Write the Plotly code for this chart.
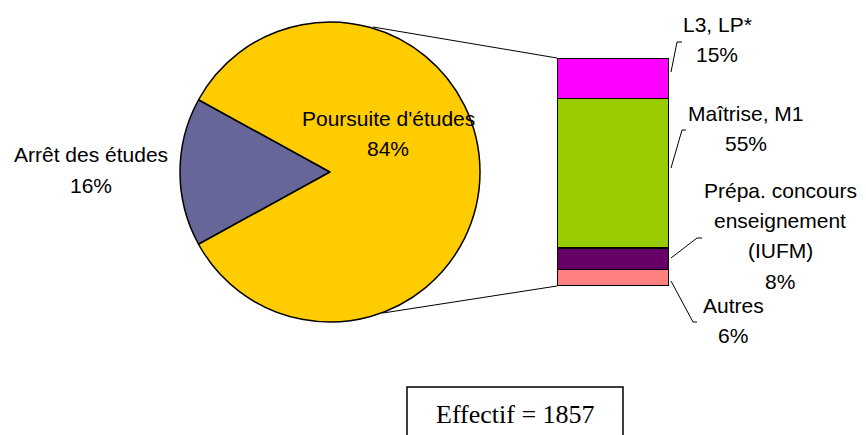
import plotly.graph_objects as go

# Pie: first level
pie_labels = ["Arrêt des études", "Poursuite d'études"]
pie_values = [16, 84]
pie_colors = ["#666699", "#FFCC00"]

# Bar: breakdown of "Poursuite d'études" (bottom to top)
bar_labels = ["Autres", "Prépa. concours<br>enseignement<br>(IUFM)", "Maîtrise, M1", "L3, LP*"]
bar_values = [6, 8, 55, 15]
bar_colors = ["#FF8080", "#660066", "#99CC00", "#FF00FF"]

effectif = 1857

# the page body has an 8px margin, so the figure is drawn 8px in
OFF = 8
W, H = 866 - OFF, 435 - OFF


def px(x):
    return (x - OFF) / W


def py(y):
    return 1 - (y - OFF) / H


FONT = "Liberation Sans, Arial, sans-serif"

# pie geometry (window pixels)
cx, cy, r = 330, 172, 150
# bar geometry (window pixels)
bx0, bx1, by0, by1 = 557, 669, 58, 286

fig = go.Figure()

# first slice centred on 9 o'clock
start = 270 - pie_values[0] / sum(pie_values) * 360 / 2
fig.add_trace(go.Pie(labels=pie_labels, values=pie_values, sort=False,
                     direction="clockwise", rotation=start,
                     marker=dict(colors=pie_colors, line=dict(color="black", width=1.5)),
                     textinfo="none", hoverinfo="label+percent", showlegend=False,
                     domain=dict(x=[px(cx - r), px(cx + r)], y=[py(cy + r), py(cy - r)])))

for lab, v, c in zip(bar_labels, bar_values, bar_colors):
    fig.add_trace(go.Bar(x=[0], y=[v], width=1, name=lab.replace("<br>", " "),
                         marker=dict(color=c, line=dict(color="black", width=1.5)),
                         showlegend=False, hoverinfo="name+y"))

total = sum(bar_values)
fig.update_layout(
    width=W, height=H, barmode="stack",
    margin=dict(l=0, r=0, t=0, b=0),
    paper_bgcolor="white", plot_bgcolor="rgba(0,0,0,0)",
    xaxis=dict(domain=[px(bx0), px(bx1)], range=[-0.5, 0.5], visible=False, fixedrange=True),
    yaxis=dict(domain=[py(by1), py(by0)], range=[0, total], visible=False, fixedrange=True),
    font=dict(family=FONT, size=21, color="black"),
)

shapes = []
# connector lines pie -> bar
shapes.append(dict(type="line", xref="paper", yref="paper", x0=px(373), y0=py(27),
                   x1=px(bx0), y1=py(by0), line=dict(color="black", width=1)))
shapes.append(dict(type="line", xref="paper", yref="paper", x0=px(383), y0=py(313),
                   x1=px(bx0), y1=py(by1), line=dict(color="black", width=1)))

# leader lines from bar segments to labels (knee point, tick end)
leaders = [(693, 322, 697), (697, 238, 702), (682, 130, 686), (677, 42, 682)]
ends = [281, 258, 168, 72]
for (kx, ky, tx), ey in zip(leaders, ends):
    shapes.append(dict(type="path", xref="paper", yref="paper",
                       path=f"M {px(bx1 + 2)},{py(ey)} L {px(kx)},{py(ky)} L {px(tx)},{py(ky)}",
                       line=dict(color="black", width=1)))

# box around effectif
shapes.append(dict(type="rect", xref="paper", yref="paper", x0=px(407), y0=py(387),
                   x1=px(623), y1=py(450), line=dict(color="black", width=1.5)))
fig.update_layout(shapes=shapes)

annotations = []


def label(text, x, y, size=21, family=FONT):
    annotations.append(dict(text=text, x=px(x), y=py(y), xref="paper", yref="paper",
                            showarrow=False, xanchor="center", yanchor="middle",
                            font=dict(size=size, family=family, color="black")))


pct = [round(v / sum(pie_values) * 100) for v in pie_values]
label(pie_labels[0], 91, 155)
label(f"{pct[0]}%", 91, 185)
label(pie_labels[1], 388, 118)
label(f"{pct[1]}%", 388, 149)

# bar labels: (centre x, first line y)
bar_pos = [(733, 305), (780, 190), (746, 113), (717, 24)]
for lab, v, (x, y) in zip(bar_labels, bar_values, bar_pos):
    lines = lab.split("<br>") + [f"{v}%"]
    for i, ln in enumerate(lines):
        label(ln, x, y + i * 30.5)

label(f"Effectif = {effectif}", 515, 414, size=26, family="Liberation Serif, Times New Roman, serif")

fig.update_layout(annotations=annotations)

fig.write_html("out.html")
